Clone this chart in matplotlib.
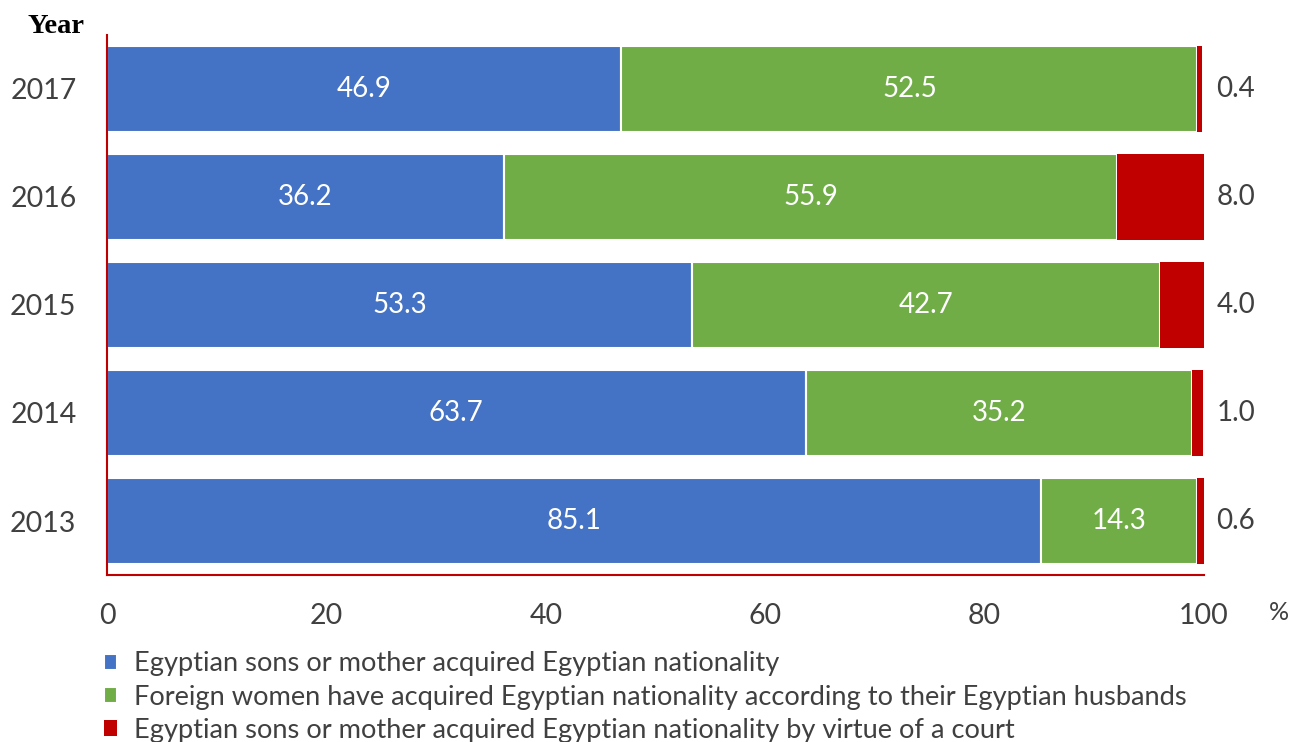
import numpy as np
import matplotlib.pyplot as plt

plt.rcParams['font.family'] = ['Lato', 'DejaVu Sans']

years = ['2013', '2014', '2015', '2016', '2017']
sons_mother = [85.1, 63.7, 53.3, 36.2, 46.9]
foreign_women = [14.3, 35.2, 42.7, 55.9, 52.5]
by_court = [0.6, 1.0, 4.0, 8.0, 0.4]

labels = ['Egyptian sons or mother acquired Egyptian nationality',
          'Foreign women have acquired Egyptian nationality according to their Egyptian husbands',
          'Egyptian sons or mother acquired Egyptian nationality by virtue of a court']
colors = ['#4472C4', '#70AD47', '#C00000']
txt = '#404040'

fig = plt.figure(figsize=(12.98, 7.42), dpi=100)
ax = fig.add_axes([0.0824, 0.225, 0.8452, 0.728])

y = np.arange(len(years))
a = np.array(sons_mother)
b = np.array(foreign_women)
c = np.array(by_court)

ax.barh(y, a, height=0.8, color=colors[0], edgecolor='white', linewidth=1.5, label=labels[0])
ax.barh(y, b, left=a, height=0.8, color=colors[1], edgecolor='white', linewidth=1.5, label=labels[1])
ax.barh(y, c, left=a + b, height=0.8, color=colors[2], edgecolor='none', label=labels[2])

for i in range(len(years)):
    ax.text(a[i] / 2, y[i], f'{a[i]:.1f}', color='white', fontsize=20, ha='center', va='center')
    ax.text(a[i] + b[i] / 2, y[i], f'{b[i]:.1f}', color='white', fontsize=20, ha='center', va='center')
    ax.annotate(f'{c[i]:.1f}', xy=(100, y[i]), xytext=(9, 0), textcoords='offset points',
                color=txt, fontsize=20, ha='left', va='center')

ax.set_xlim(0, 100)
ax.set_ylim(-0.5, 4.5)
ax.set_yticks(y)
ax.set_yticklabels(years)
ax.set_xticks([0, 20, 40, 60, 80, 100])
ax.tick_params(length=0, labelsize=20.5, colors=txt)
ax.tick_params(axis='x', pad=20)
ax.tick_params(axis='y', pad=22)
for s in ['top', 'right']:
    ax.spines[s].set_visible(False)
for s in ['left', 'bottom']:
    ax.spines[s].set_color('#C00000')
    ax.spines[s].set_linewidth(1.5)

fig.text(0.021, 0.964, 'Year', family='Liberation Serif', fontweight='bold', fontsize=20.5, va='center')
fig.text(0.985, 0.175, '%', color=txt, fontsize=18, ha='center', va='center')

fig.legend(loc='upper left', bbox_to_anchor=(0.08, 0.122), frameon=False, fontsize=19.6,
           handlelength=0.5, handleheight=0.5, handletextpad=0.6, labelspacing=0.3,
           borderaxespad=0, borderpad=0, labelcolor=txt)

fig.savefig('out.png', dpi=100)
